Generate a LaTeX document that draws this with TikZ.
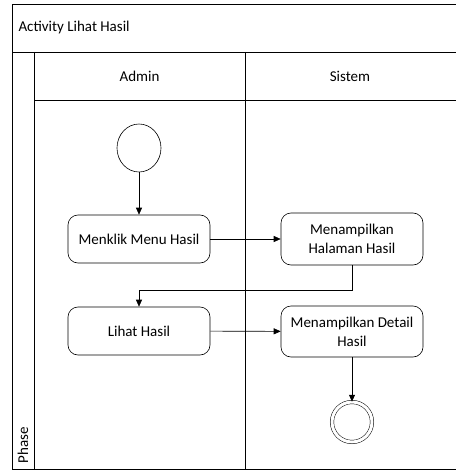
\documentclass[tikz,border=0pt]{standalone}
\usepackage{fontspec}
\setmainfont{Carlito}
\usetikzlibrary{shapes.geometric, arrows.meta, positioning}

\begin{document}
\begin{tikzpicture}[x=1pt, y=-1pt,
  act/.style={draw, rounded corners=10pt, minimum width=142pt, minimum height=48pt,
              align=center, font=\fontsize{15}{19}\selectfont, inner sep=2pt},
  label/.style={font=\fontsize{15}{19}\selectfont},
  flow/.style={-{Triangle[length=7pt, width=6pt]}, line width=0.6pt}]
\useasboundingbox (0,0) rectangle (455,473);
% swimlane frame
\begin{scope}[line width=0.6pt]
\draw (457,4) -- (12,4) -- (12,469) -- (457,469);
\draw (12,52) -- (457,52);
\draw (34,100) -- (457,100);
\draw (34,52) -- (34,469);
\draw (245,52) -- (245,469);
\end{scope}
\node[label, anchor=west] (title) at (15,28) {Activity Lihat Hasil};
\node[label] (admin) at (139.5,76) {Admin};
\node[label] (sistem) at (350,76) {Sistem};
\node[label, rotate=90, anchor=west] (phase) at (23,467) {Phase};

% activities
\node[draw, line width=0.6pt, ellipse, minimum width=44pt, minimum height=48pt, inner sep=0pt] (start) at (139,148) {};
\node[act, line width=0.6pt] (menu) at (139,239) {Menklik Menu Hasil};
\node[act, line width=0.6pt, minimum height=52pt] (halaman) at (352,239) {Menampilkan\\Halaman Hasil};
\node[act, line width=0.6pt] (lihat) at (139,331) {Lihat Hasil};
\node[act, line width=0.6pt, minimum height=51pt] (detail) at (352,331.5) {Menampilkan Detail\\Hasil};
\node[draw, line width=0.5pt, circle, double, double distance=3pt, minimum size=40pt, inner sep=0pt] (end) at (352,422) {};
\coordinate (bend) at (139,290);

% connectors
\draw[flow] (start) -- (menu);
\draw[flow] (menu) -- (halaman);
\draw[flow] (halaman.south) |- (bend) -- (lihat.north);
\draw[flow] (lihat) -- (detail);
\draw[flow] (detail) -- (end);
\end{tikzpicture}
\end{document}
